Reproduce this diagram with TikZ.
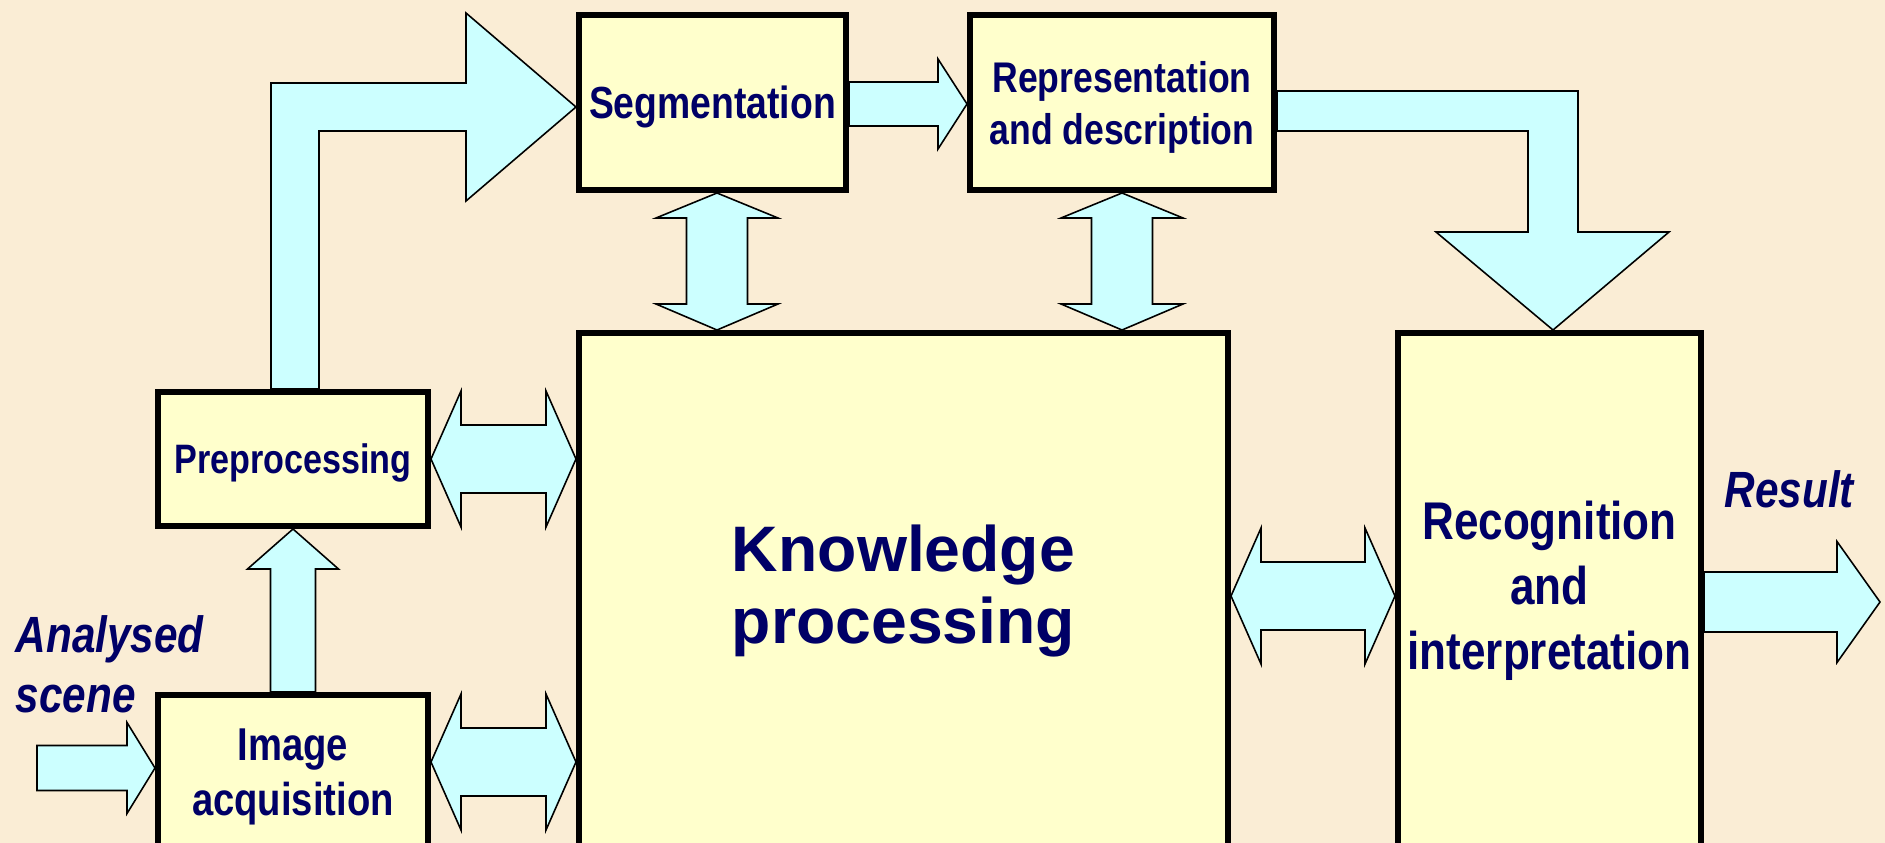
\documentclass[tikz,border=0pt]{standalone}
\usepackage{fontspec}
\usepackage{tikz}
\usetikzlibrary{calc}
\newfontfamily\narrowsans[FakeStretch=0.83]{Liberation Sans}
\newfontfamily\plainsans{Liberation Sans}
\definecolor{paper}{HTML}{FAEDD5}
\definecolor{boxfill}{HTML}{FFFFCC}
\definecolor{flowfill}{HTML}{CCFFFF}
\definecolor{ink}{HTML}{000066}

% block arrow with two heads, left tip #1 and right tip #2
\newcommand{\flowlr}[2]{%
  \draw[flow] (#1) -- ++(0.30,0.68) -- ++(0,-0.34) -- ($(#2)+(-0.30,0.34)$)
    -- ++(0,0.34) -- (#2) -- ++(-0.30,-0.68) -- ++(0,0.34)
    -- ($(#1)+(0.30,-0.34)$) -- ++(0,-0.34) -- cycle;}
% block arrow with two heads, top tip #1 and bottom tip #2
\newcommand{\flowud}[2]{%
  \draw[flow] (#1) -- ++(0.61,-0.25) -- ++(-0.305,0) -- ($(#2)+(0.305,0.26)$)
    -- ++(0.305,0) -- (#2) -- ++(-0.61,0.26) -- ++(0.305,0)
    -- ($(#1)+(-0.305,-0.25)$) -- ++(-0.305,0) -- cycle;}

\begin{document}
\begin{tikzpicture}[
  block/.style={draw=black, line width=0.06cm, fill=boxfill, text=ink, align=center, inner sep=0pt, anchor=north west},
  flow/.style={draw=black, line width=0.45pt, fill=flowfill, line join=miter},
  outside/.style={text=ink, inner sep=0pt, font=\narrowsans\bfseries\itshape\fontsize{14.5pt}{17.1pt}\selectfont}
]
\useasboundingbox (0cm,0cm) rectangle (18.85cm,-8.43cm);
\fill[paper] (0cm,0cm) rectangle (18.85cm,-8.43cm);
\clip (0cm,0cm) rectangle (18.85cm,-8.43cm);

% boxes
\node[block, minimum width=2.67cm, minimum height=1.75cm, text depth=0pt,
  font=\narrowsans\bfseries\fontsize{12.8pt}{14.5pt}\selectfont] (seg) at (5.76cm,-0.12cm) {Segmentation};
\node[block, minimum width=3.04cm, minimum height=1.75cm, text depth=0pt,
  font=\narrowsans\bfseries\fontsize{12.2pt}{14.8pt}\selectfont] (rep) at (9.67cm,-0.12cm) {Representation\\and description};
\node[block, minimum width=2.70cm, minimum height=1.34cm, text depth=0pt,
  font=\narrowsans\bfseries\fontsize{11.7pt}{14pt}\selectfont] (pre) at (1.55cm,-3.89cm) {Preprocessing};
\node[block, minimum width=2.70cm, minimum height=1.54cm, text depth=0pt,
  font=\narrowsans\bfseries\fontsize{13.1pt}{15.6pt}\selectfont] (img) at (1.55cm,-6.92cm) {Image\\acquisition};
\node[block, minimum width=6.49cm, minimum height=5.16cm,
  font=\plainsans\bfseries\fontsize{18.3pt}{20.6pt}\selectfont] (know) at (5.76cm,-3.30cm) {Knowledge\\processing};
\node[block, minimum width=3.03cm, minimum height=5.16cm,
  font=\narrowsans\bfseries\fontsize{15.1pt}{18.5pt}\selectfont] (recog) at (13.95cm,-3.30cm) {Recognition\\and\\interpretation};

% outside texts
\node[outside, anchor=north west, align=left] (scenetext) at (0.15cm,-6.15cm) {Analysed\\scene};
\node[outside, anchor=base west] (resulttext) at (17.24cm,-5.07cm) {Result};

% free ends
\coordinate (scene) at (0.37cm,-7.68cm);
\coordinate (imgin) at ($(img.west)+(0,0.04)$);

% scene -> acquisition
\draw[flow] ($(scene)+(0,0.225)$) -- ++(0.90,0) -- ++(0,0.23) -- (imgin)
  -- ++(-0.28,-0.455) -- ++(0,0.23) -- ($(scene)+(0,-0.225)$) -- cycle;

% acquisition -> preprocessing
\draw[flow] ($(img.north)+(-0.225,0)$) -- ++(0,1.23) -- ++(-0.23,0) -- (pre.south)
  -- ++(0.455,-0.40) -- ++(-0.23,0) -- ($(img.north)+(0.225,0)$) -- cycle;

% preprocessing -> segmentation
\coordinate (ps) at ($(seg.west)+(0,-0.045)$);
\draw[flow] ($(pre.north)+(-0.22,0)$) |- ($(ps)+(-1.10,0.24)$) -- ++(0,0.70) -- (ps)
  -- ++(-1.10,-0.94) -- ++(0,0.70) -- ++(-1.47,0) -- ($(pre.north)+(0.26,0)$) -- cycle;

% segmentation -> representation
\coordinate (sr) at ($(seg.east)+(0,-0.015)$);
\draw[flow] ($(sr)+(0,0.22)$) -- ++(0.89,0) -- ++(0,0.23) -- (sr -| rep.west)
  -- ++(-0.29,-0.45) -- ++(0,0.23) -- ($(sr)+(0,-0.22)$) -- cycle;

% representation -> recognition
\coordinate (rc) at ($(recog.north)+(0.035,0)$);
\draw[flow] ($(rep.east)+(0,0.115)$) -| ($(rc)+(0.25,0.98)$) -- ++(0.91,0) -- (rc)
  -- ++(-1.17,0.98) -- ++(0.92,0) |- ($(rep.east)+(0,-0.285)$) -- cycle;

% recognition -> result
\coordinate (rr) at ($(recog.east)+(0,-0.11)$);
\coordinate (result) at ($(rr)+(1.76,0)$);
\draw[flow] ($(rr)+(0,0.30)$) -- ++(1.33,0) -- ++(0,0.305) -- (result)
  -- ++(-0.43,-0.605) -- ++(0,0.305) -- ($(rr)+(0,-0.30)$) -- cycle;

% knowledge links
\coordinate (sk1) at ($(seg.south)+(0.045,0)$);
\coordinate (sk2) at (sk1 |- know.north);
\flowud{sk1}{sk2}
\coordinate (rk) at (rep.south |- know.north);
\flowud{rep.south}{rk}
\coordinate (pk) at (pre.east -| know.west);
\flowlr{pre.east}{pk}
\coordinate (ik1) at ($(img.east)+(0,0.10)$);
\coordinate (ik2) at (ik1 -| know.west);
\flowlr{ik1}{ik2}
\coordinate (kr1) at ($(know.east)+(0,-0.05)$);
\coordinate (kr2) at (kr1 -| recog.west);
\flowlr{kr1}{kr2}
\end{tikzpicture}
\end{document}
